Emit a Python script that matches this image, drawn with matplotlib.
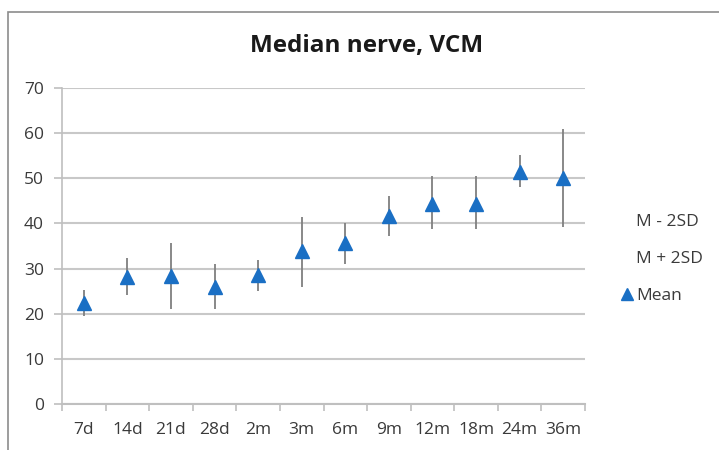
import matplotlib
matplotlib.use("Agg")
import matplotlib.pyplot as plt
from matplotlib.lines import Line2D
from matplotlib.patches import Rectangle

categories = ["7d", "14d", "21d", "28d", "2m", "3m", "6m", "9m", "12m", "18m", "24m", "36m"]
mean = [22.4, 28.1, 28.3, 25.9, 28.5, 33.9, 35.7, 41.6, 44.4, 44.4, 51.5, 50.1]
m_minus_2sd = [19.6, 24.1, 21.0, 21.0, 25.0, 25.9, 31.1, 37.3, 38.7, 38.7, 48.0, 39.3]
m_plus_2sd = [25.2, 32.4, 35.6, 31.1, 31.9, 41.5, 40.2, 46.1, 50.6, 50.6, 55.2, 60.9]
yticks = [0, 10, 20, 30, 40, 50, 60, 70]

plt.rcParams['font.family'] = ['Open Sans', 'DejaVu Sans']

W, H = 719, 450
fig = plt.figure(figsize=(W / 100, H / 100), dpi=100)
# chart border
fig.patches.append(Rectangle((8 / W, -0.02), 1.2, 1 - 12 / H + 0.02, transform=fig.transFigure,
                             fill=False, edgecolor="#8c8c8c", linewidth=1.2))

ax = fig.add_axes([62 / W, 1 - 404 / H, (585 - 62) / W, (404 - 88) / H])
x = list(range(len(categories)))

ax.vlines(x, m_minus_2sd, m_plus_2sd, color="#7f7f7f", linewidth=1.3, zorder=3)
ax.plot(x, mean, linestyle="none", marker="^", markersize=10, color="#1a6fc4",
        markeredgecolor="#1a6fc4", zorder=4)

ax.set_xlim(-0.5, len(categories) - 0.5)
ax.set_ylim(0, 70)
ax.set_yticks(yticks)
ax.set_yticklabels([str(v) for v in yticks], fontsize=12.5, color="#3a3a3a")
ax.set_xticks(x)
ax.set_xticklabels(categories, fontsize=12.5, color="#3a3a3a")
ax.tick_params(axis="x", length=0, pad=13)
ax.tick_params(axis="y", length=6, color="#bfbfbf", width=1.2, pad=7)
# category boundary ticks
ax.set_xticks([i - 0.5 for i in range(len(categories) + 1)], minor=True)
ax.tick_params(axis="x", which="minor", length=5, color="#bfbfbf", width=1.2)

ax.grid(axis="y", color="#c8c8c8", linewidth=1.5)
ax.set_axisbelow(True)
for s in ["top", "right"]:
    ax.spines[s].set_visible(False)
ax.spines["left"].set_color("#bfbfbf")
ax.spines["left"].set_linewidth(1.2)
ax.spines["bottom"].set_color("#bfbfbf")
ax.spines["bottom"].set_linewidth(1.5)

fig.text(367 / W, 1 - 46 / H, "Median nerve, VCM", ha="center", va="center",
         fontsize=17.5, fontweight="bold", color="#1a1a1a")

handles = [Line2D([], [], linestyle="none", marker=None),
           Line2D([], [], linestyle="none", marker=None),
           Line2D([], [], linestyle="none", marker="^", markersize=8, color="#1a6fc4")]
leg = fig.legend(handles, ["M - 2SD", "M + 2SD", "Mean"], loc="center left",
                 bbox_to_anchor=(606 / W, 1 - 259 / H), frameon=False, fontsize=12.5,
                 handlelength=0.6, handletextpad=0.25, labelspacing=1.22)
for t in leg.get_texts():
    t.set_color("#3a3a3a")

fig.savefig("out.png", dpi=100, facecolor="white")
